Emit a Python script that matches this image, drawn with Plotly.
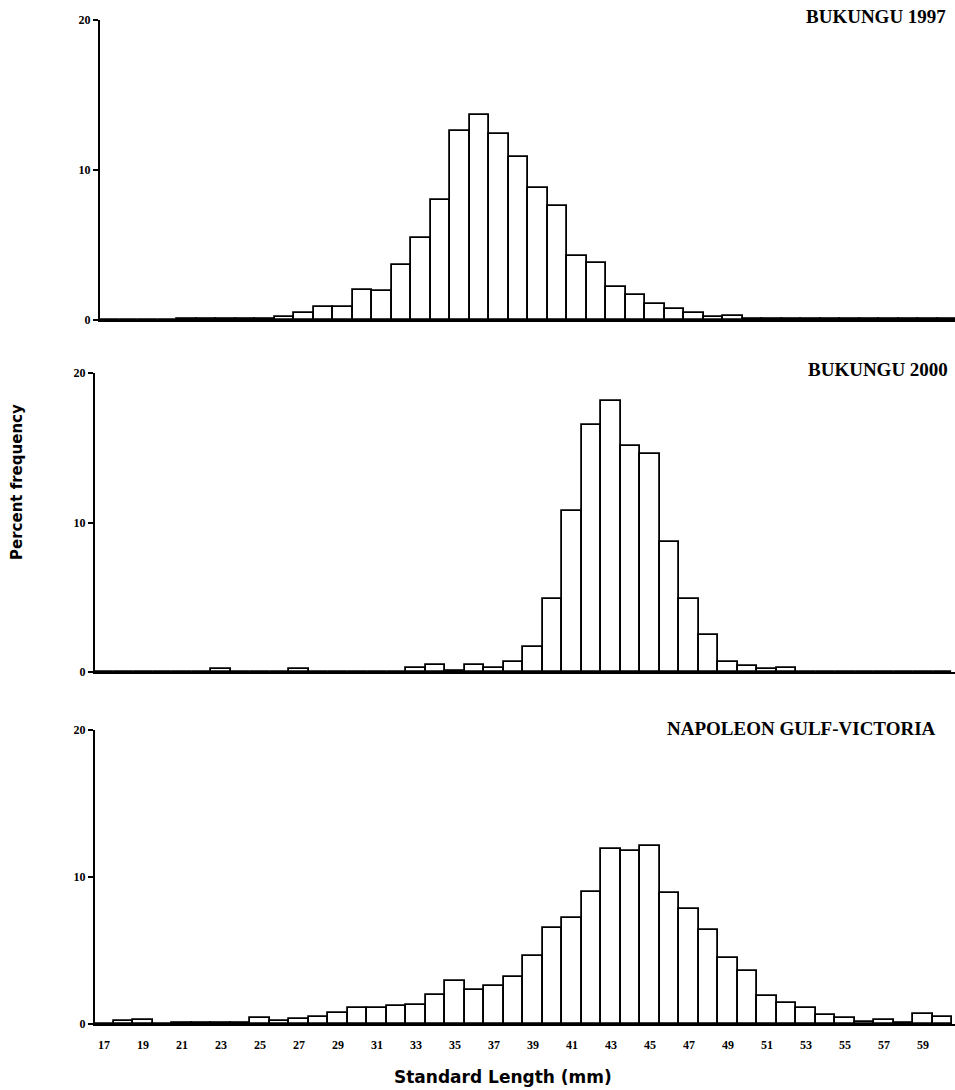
import plotly.graph_objects as go

# ---------------- data ----------------
lengths = list(range(17, 61))

bukungu_1997 = [0, 0, 0.03, 0.03, 0.05, 0.05, 0.05, 0.05, 0.1, 0.2,
                0.45, 0.85, 0.85, 2.0, 1.95, 3.7, 5.5, 8.0, 12.6, 13.7,
                12.4, 10.9, 8.8, 7.6, 4.3, 3.8, 2.2, 1.65, 1.1, 0.75,
                0.5, 0.2, 0.3, 0.1, 0.05, 0.05, 0.05, 0.05, 0.05, 0.05,
                0.05, 0.05, 0.05, 0.05]

bukungu_2000 = [0, 0, 0, 0, 0, 0, 0.2, 0.02, 0.02, 0.02,
                0.2, 0.03, 0.03, 0.03, 0.03, 0.03, 0.25, 0.45, 0.05, 0.45,
                0.25, 0.7, 1.7, 4.9, 10.8, 16.5, 18.1, 15.1, 14.6, 8.7,
                4.9, 2.5, 0.7, 0.4, 0.2, 0.25, 0.02, 0.02, 0.02, 0.02,
                0.02, 0.02, 0.02, 0.02]

napoleon_gulf = [0, 0.2, 0.25, 0.03, 0.05, 0.05, 0.05, 0.1, 0.4, 0.2,
                 0.35, 0.5, 0.75, 1.1, 1.1, 1.2, 1.3, 2.0, 2.9, 2.3,
                 2.6, 3.2, 4.6, 6.5, 7.2, 9.0, 11.9, 11.8, 12.1, 8.9,
                 7.8, 6.4, 4.5, 3.6, 1.9, 1.4, 1.1, 0.6, 0.4, 0.15,
                 0.3, 0.1, 0.7, 0.45]

panel_titles = ["BUKUNGU 1997", "BUKUNGU 2000", "NAPOLEON GULF-VICTORIA"]
x_tick_vals = list(range(17, 60, 2))
y_tick_vals = [0, 10, 20]

# ---------------- layout helpers ----------------
W, H = 955, 1090


def px(x):
    return x / W


def py(y):
    return 1 - y / H


fig = go.Figure()

series = [bukungu_1997, bukungu_2000, napoleon_gulf]
for i, vals in enumerate(series):
    ax = "" if i == 0 else str(i + 1)
    fig.add_trace(go.Bar(
        x=lengths, y=vals, width=1,
        marker=dict(color="white", line=dict(color="black", width=1.8)),
        xaxis="x" + ax, yaxis="y" + ax, showlegend=False,
    ))

serif_bold = dict(family="Liberation Serif", size=12, color="black", weight="bold")

# panel geometry in pixels: (axis x, y of 0, y of 20, x-range)
panels = [
    (100, 320, 20, [16.54, 60.38]),
    (95, 672, 373, [16.54, 60.64]),
    (95, 1024, 730, [16.54, 60.64]),
]

layout = dict(
    width=W, height=H,
    margin=dict(l=0, r=0, t=0, b=0),
    paper_bgcolor="white", plot_bgcolor="white",
    bargap=0, showlegend=False,
)

for i, (axx, y0, y20, xr) in enumerate(panels):
    sfx = "" if i == 0 else str(i + 1)
    bottom = i == 2
    layout["xaxis" + sfx] = dict(
        domain=[px(axx), 1.0], range=xr, anchor="y" + sfx,
        showline=True, linecolor="black", linewidth=2,
        showgrid=False, zeroline=False,
        ticks="", tickvals=x_tick_vals,
        showticklabels=bottom, tickfont=serif_bold,
        ticklabelstandoff=9 if bottom else 0,
        automargin=False, fixedrange=True,
    )
    layout["yaxis" + sfx] = dict(
        domain=[py(y0), py(y20)], range=[0, 20], anchor="x" + sfx,
        showline=True, linecolor="black", linewidth=2,
        showgrid=False, zeroline=False,
        ticks="outside", ticklen=5, tickwidth=1.5, tickcolor="black",
        tickvals=y_tick_vals, tickfont=serif_bold,
        automargin=False, fixedrange=True,
    )

fig.update_layout(**layout)

title_pos = [(948, 17), (950, 370), (938, 728)]
for t, (tx, ty) in zip(panel_titles, title_pos):
    fig.add_annotation(
        text=t, x=px(tx), y=py(ty), xref="paper", yref="paper",
        xanchor="right", yanchor="middle", showarrow=False,
        font=dict(family="Liberation Serif", size=19, color="black", weight="bold"),
    )

fig.add_annotation(
    text="Percent frequency", x=px(17), y=py(482), xref="paper", yref="paper",
    xanchor="center", yanchor="middle", showarrow=False, textangle=-90,
    font=dict(family="DejaVu Sans", size=15, color="black", weight="bold"),
)
fig.add_annotation(
    text="Standard Length (mm)", x=px(503), y=py(1077), xref="paper", yref="paper",
    xanchor="center", yanchor="middle", showarrow=False,
    font=dict(family="DejaVu Sans", size=17, color="black", weight="bold"),
)

fig.write_html("out.html")
